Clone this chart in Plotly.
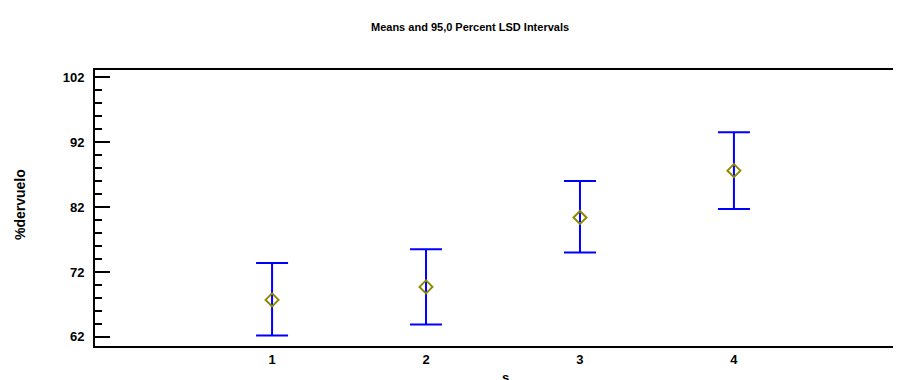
import plotly.graph_objects as go

# data
levels = [1, 2, 3, 4]
means = [67.7, 69.7, 80.4, 87.6]
lower = [62.2, 63.9, 75.0, 81.7]
upper = [73.4, 75.5, 86.0, 93.5]
y_ticks = [62, 72, 82, 92, 102]

# the page body has an 8px margin, so figure coords = screen coords - 8
W, H = 920, 380
L, R, T, B = 87, 17, 62, 42
font_family = "Liberation Sans, Arial, sans-serif"
PW, PH = W - L - R, H - T - B


def px(xs, ys):
    """figure pixel -> paper coords"""
    return (xs - L) / PW, (H - B - ys) / PH


fig = go.Figure()
fig.add_trace(go.Scatter(
    x=levels, y=means, mode="markers",
    marker=dict(symbol="diamond-open", size=10, color="#8c8a00", line=dict(width=2, color="#8c8a00")),
    error_y=dict(type="data", symmetric=False,
                 array=[u - m for u, m in zip(upper, means)],
                 arrayminus=[m - l for m, l in zip(means, lower)],
                 color="#0000ff", thickness=2, width=16),
    showlegend=False, cliponaxis=False,
))
fig.add_trace(go.Scatter(x=[levels[0]], y=[means[0]], yaxis="y2", mode="markers",
                         marker=dict(opacity=0), showlegend=False, hoverinfo="skip"))

tx, ty = px(462, 19)
sx, sy = px(497, 369)
yx, yy = px(12, 197)

fig.update_layout(
    width=W, height=H,
    margin=dict(l=L, r=R, t=T, b=B),
    paper_bgcolor="white", plot_bgcolor="white",
    font=dict(family=font_family, size=13, color="black"),
    xaxis=dict(range=[-0.15, 5.15], tickvals=levels, ticktext=[str(v) for v in levels],
               showgrid=False, zeroline=False, showline=True, linewidth=2, linecolor="black",
               mirror=True, ticks="", tickfont=dict(size=13, family=font_family, weight="bold")),
    yaxis=dict(range=[60.6, 103.1], tickvals=y_ticks, showgrid=False, zeroline=False,
               showline=True, linewidth=2, linecolor="black", ticks="inside", ticklen=15,
               tickwidth=2, tickcolor="black", ticklabelstandoff=6,
               minor=dict(dtick=2, tick0=62, ticks="inside", ticklen=7, tickwidth=2, tickcolor="black"),
               tickfont=dict(size=13, family=font_family, weight="bold")),
    yaxis2=dict(range=[60.6, 103.1], tickvals=y_ticks, overlaying="y", side="right",
                showgrid=False, zeroline=False, showline=True, linewidth=2, linecolor="black",
                ticks="inside", ticklen=15, tickwidth=2, tickcolor="black",
                showticklabels=False, anchor="x"),
    annotations=[
        dict(text="<b>Means and 95,0 Percent LSD Intervals</b>", xref="paper", yref="paper",
             x=tx, y=ty, xanchor="center", yanchor="middle",
             showarrow=False, font=dict(size=11, family=font_family)),
        dict(text="<b>s</b>", xref="paper", yref="paper",
             x=sx, y=sy, xanchor="center", yanchor="middle",
             showarrow=False, font=dict(size=13, family=font_family)),
        dict(text="<b>%dervuelo</b>", xref="paper", yref="paper", textangle=-90,
             x=yx, y=yy, xanchor="center", yanchor="middle",
             showarrow=False, font=dict(size=14, family=font_family)),
    ],
)

fig.write_html("out.html")
